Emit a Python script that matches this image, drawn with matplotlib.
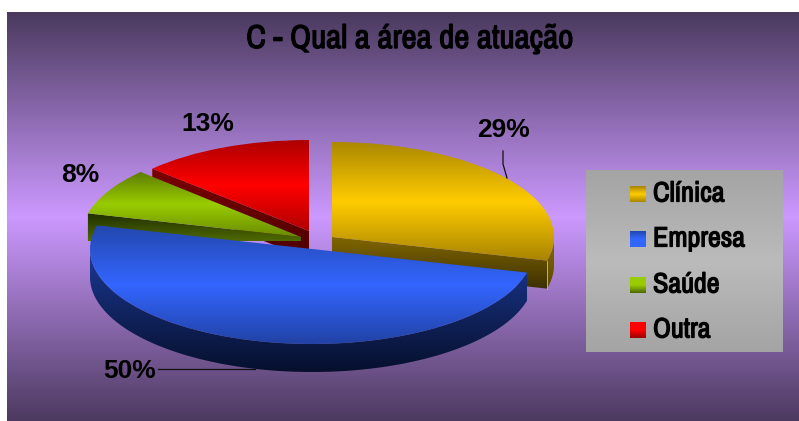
import numpy as np
import matplotlib
matplotlib.use("Agg")
import matplotlib.pyplot as plt
import matplotlib.patheffects as pe
from matplotlib import font_manager as fm
from matplotlib.colors import LinearSegmentedColormap
from matplotlib.patches import Polygon, Wedge
from matplotlib.transforms import Affine2D

# Data
categories = ["Clínica", "Empresa", "Saúde", "Outra"]
values = [29, 50, 8, 13]
title = "C - Qual a área de atuação"

# Narrow bold face like the original, plain Liberation Sans if none is there
names = {f.name for f in fm.fontManager.ttflist}
narrow = "Liberation Sans"
for cand in ["Liberation Sans Narrow", "Arimo Narrow", "Archivo Narrow", "PT Sans Narrow", "Roboto Condensed"]:
    if cand in names:
        narrow = cand
        break
# the narrow face only comes in regular here, a thin stroke makes it bold
thick = [pe.withStroke(linewidth=0.9, foreground="black")]

# Slice styles: centre and radii of each slice in pixels, top colours, wall colours
centers = [(332, 237), (312, 249), (301, 237), (309, 231)]
radii = [(222, 95), (222, 95), (220, 95), (215, 91)]
top_colors = [["#ab8800", "#ffcc00", "#a88400"],
              ["#2347ad", "#3366ff", "#2142a5"],
              ["#5c7a00", "#99cc00", "#6a8c00"],
              ["#ad0000", "#ff0000", "#b00000"]]
wall_colors = [["#806600", "#3d3000"],
               ["#1c3a96", "#060f2c"],
               ["#1f2e00", "#4f6a00"],
               ["#800000", "#4a0000"]]
legend_colors = [["#a88400", "#ffcc00", "#a88400"],
                 ["#2347ad", "#3366ff", "#3366ff"],
                 ["#99cc00", "#99cc00", "#4d6600"],
                 ["#ff0000", "#ff0000", "#990000"]]
depth = 28

fig = plt.figure(figsize=(7.99, 4.21), dpi=100)
ax = fig.add_axes([0, 0, 1, 1])
ax.set_xlim(0, 799)
ax.set_ylim(421, 0)
ax.axis("off")


def gradient(colors, x0, x1, y0, y1, clip=None, z=1):
    cmap = LinearSegmentedColormap.from_list("g", colors)
    im = ax.imshow(np.linspace(0, 1, 256).reshape(-1, 1), cmap=cmap, aspect="auto",
                   extent=[x0, x1, y1, y0], zorder=z, interpolation="bilinear")
    if clip is not None:
        im.set_clip_path(clip)
    return im


def arc(c, r, a1, a2):
    t = np.radians(np.linspace(a1, a2, 120))
    return np.column_stack([c[0] + r[0] * np.cos(t), c[1] - r[1] * np.sin(t)])


def hidden(points):
    p = Polygon(points, closed=True, fc="none", ec="none", transform=ax.transData)
    ax.add_patch(p)
    return p


def fit_text(t, width):
    # scale the font so the text is as wide as in the original
    box = t.get_window_extent(fig.canvas.get_renderer())
    t.set_fontsize(t.get_fontsize() * width / box.width)


# Background and legend panel
gradient(["#4a3a5e", "#cc99ff", "#4c3a60"], 7, 799, 12, 421, z=0)
gradient(["#a4a4a4", "#bbbbbb", "#a4a4a4"], 586, 783, 170, 352, z=1)

# Slice angles, clockwise from 12 o'clock
edges = 90 - 3.6 * np.cumsum([0] + values)
z = 2
for i in [0, 3, 2, 1]:
    c, r = centers[i], radii[i]
    a_start, a_end = edges[i], edges[i + 1]
    # cut walls, seen only where the edge runs towards the viewer
    if i == 0:
        p = arc(c, r, a_end, a_end)[0]
        wall = [c, p, (p[0], p[1] + depth), (c[0], c[1] + depth)]
        gradient(wall_colors[i], 300, 560, c[1], p[1] + depth, hidden(wall), z)
        rim = arc(c, r, 0, a_end)
        rim = np.vstack([rim, rim[::-1] + [0, depth]])
        gradient(["#8a6e00", "#5a4800"], 500, 560, 235, 290, hidden(rim), z)
        ax.plot([p[0], p[0]], [p[1], p[1] + depth], color="#c8b060", lw=0.7, zorder=z + 0.5)
    elif i == 3:
        p = arc(c, r, a_start, a_start)[0]
        wall = [c, p, (p[0], p[1] + depth), (c[0], c[1] + depth)]
        gradient(wall_colors[i], 140, 320, 160, 264, hidden(wall), z)
    elif i == 2:
        p = arc(c, r, a_start, a_start)[0]
        wall = [c, p, (p[0], c[1] + 4), (c[0], c[1] + 4)]
        gradient(wall_colors[i], 80, 310, p[1], c[1] + 4, hidden(wall), z)
    else:
        rim = arc(c, r, a_start, a_end)
        low = rim[rim[:, 1] >= c[1] - 1]
        rim = np.vstack([low, low[::-1] + [0, depth]])
        gradient(wall_colors[i], 80, 540, c[1], c[1] + r[1] + depth, hidden(rim), z)
    # top surface
    tf = Affine2D().scale(r[0], -r[1]).translate(*c) + ax.transData
    top = Wedge((0, 0), 1, min(a_start, a_end), max(a_start, a_end), fc="none", ec="none", transform=tf)
    ax.add_patch(top)
    pts = np.vstack([arc(c, r, a_start, a_end), [c]])
    gradient(top_colors[i], c[0] - r[0] - 2, c[0] + r[0] + 2, pts[:, 1].min(), pts[:, 1].max(), top, z + 1)
    z += 2

# Percent labels with leader lines
ax.plot([503, 503, 507], [151, 164, 178], color="#111111", lw=0.9, zorder=20)
ax.plot([158, 255], [369, 369], color="#111111", lw=0.9, zorder=20)
label_pos = [(504, 130), (130, 371), (80, 175), (208, 124)]
for v, (x, y) in zip(values, label_pos):
    ax.text(x, y, f"{v}%", fontsize=19, fontweight="bold", family="Liberation Sans",
            ha="center", va="center", color="black", zorder=21)

t = ax.text(410, 39, title, fontsize=22, fontweight="bold", family=narrow,
            ha="center", va="center", color="black", zorder=21, path_effects=thick)
fit_text(t, 327)

# Legend
swatch_y = [186, 231, 277, 322]
legend_texts = []
for name, colors, y in zip(categories, legend_colors, swatch_y):
    gradient(colors, 630, 646, y, y + 16, z=20)
    legend_texts.append(ax.text(653, y + 8, name, fontsize=18, fontweight="bold", family=narrow,
                                ha="left", va="center", color="black", zorder=21, path_effects=thick))
fit_text(legend_texts[1], 92)
for lt in legend_texts:
    lt.set_fontsize(legend_texts[1].get_fontsize())

ax.set_xlim(0, 799)
ax.set_ylim(421, 0)
fig.savefig("out.png", dpi=100, facecolor="white")
